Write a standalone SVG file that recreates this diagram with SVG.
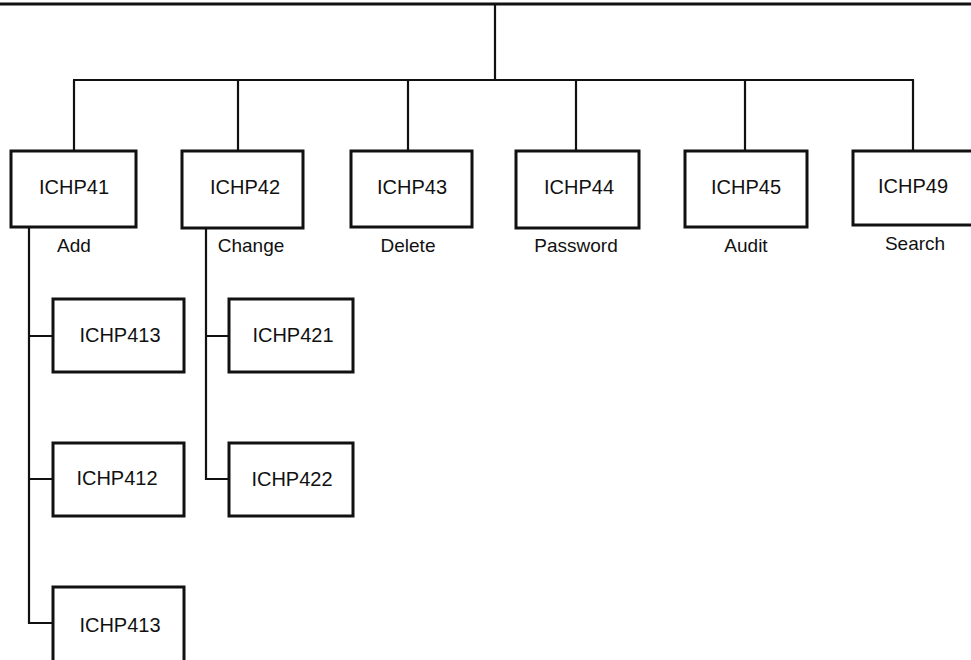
<svg xmlns="http://www.w3.org/2000/svg" width="971" height="660" viewBox="0 0 971 660">
<style>
.box{fill:#fff;stroke:#111;stroke-width:3}
.id{font-family:"Liberation Sans",Arial,sans-serif;font-size:20px;fill:#111;text-anchor:middle}
.lbl{font-family:"Liberation Sans",Arial,sans-serif;font-size:19px;fill:#111;text-anchor:middle}
.ln{fill:none;stroke:#111;stroke-width:2.2}
</style>
<rect width="971" height="660" fill="#fff"/>
<g id="connectors">
<line class="ln" x1="0" y1="4" x2="971" y2="4" style="stroke-width:3"/>
<line class="ln" x1="495" y1="4" x2="495" y2="80"/>
<line class="ln" x1="73" y1="80" x2="914" y2="80"/>
<line class="ln" x1="74" y1="80" x2="74" y2="151"/>
<line class="ln" x1="238" y1="80" x2="238" y2="151"/>
<line class="ln" x1="408" y1="80" x2="408" y2="151"/>
<line class="ln" x1="576" y1="80" x2="576" y2="151"/>
<line class="ln" x1="745" y1="80" x2="745" y2="151"/>
<line class="ln" x1="913" y1="80" x2="913" y2="151"/>
<path class="ln" d="M29 227 V623 H53 M29 336 H53 M29 479 H53"/>
<path class="ln" d="M206 228 V479 H229 M206 336 H229"/>
</g>
<g id="ICHP41"><rect class="box" x="11" y="151" width="125" height="76"/><text class="id" x="74" y="194">ICHP41</text><text class="lbl" x="74" y="252">Add</text></g>
<g id="ICHP42"><rect class="box" x="182" y="151" width="121" height="77"/><text class="id" x="245" y="194">ICHP42</text><text class="lbl" x="251" y="252">Change</text></g>
<g id="ICHP43"><rect class="box" x="351" y="151" width="121" height="76"/><text class="id" x="412" y="194">ICHP43</text><text class="lbl" x="408" y="252">Delete</text></g>
<g id="ICHP44"><rect class="box" x="516" y="151" width="123" height="77"/><text class="id" x="579" y="194">ICHP44</text><text class="lbl" x="576" y="252">Password</text></g>
<g id="ICHP45"><rect class="box" x="685" y="151" width="122" height="76"/><text class="id" x="746" y="194">ICHP45</text><text class="lbl" x="746" y="252">Audit</text></g>
<g id="ICHP49"><rect class="box" x="853" y="151" width="130" height="74"/><text class="id" x="913" y="193">ICHP49</text><text class="lbl" x="915" y="250">Search</text></g>
<g id="ICHP413a"><rect class="box" x="53" y="299" width="131" height="73"/><text class="id" x="120" y="342">ICHP413</text></g>
<g id="ICHP412"><rect class="box" x="53" y="443" width="131" height="73"/><text class="id" x="117" y="485">ICHP412</text></g>
<g id="ICHP413b"><rect class="box" x="53" y="587" width="131" height="80"/><text class="id" x="120" y="632">ICHP413</text></g>
<g id="ICHP421"><rect class="box" x="229" y="299" width="124" height="73"/><text class="id" x="293" y="342">ICHP421</text></g>
<g id="ICHP422"><rect class="box" x="229" y="443" width="124" height="73"/><text class="id" x="292" y="486">ICHP422</text></g>
</svg>
